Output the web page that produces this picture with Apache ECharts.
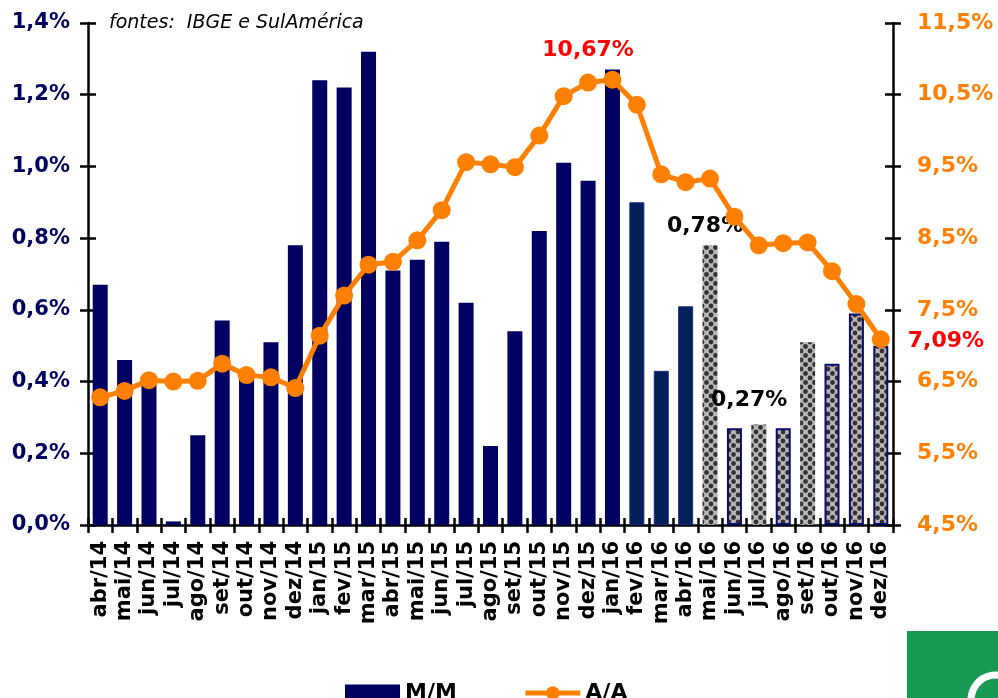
<!DOCTYPE html>
<html>
<head>
<meta charset="utf-8">
<script src="https://cdn.jsdelivr.net/npm/echarts@6/dist/echarts.min.js"></script>
<style>
  html, body { margin: 0; padding: 0; background: #fff; }
  #chart { width: 998px; height: 698px; }
</style>
</head>
<body>
<div id="chart"></div>
<script>
// meses
const months = ['abr/14','mai/14','jun/14','jul/14','ago/14','set/14','out/14','nov/14','dez/14',
  'jan/15','fev/15','mar/15','abr/15','mai/15','jun/15','jul/15','ago/15','set/15','out/15','nov/15','dez/15',
  'jan/16','fev/16','mar/16','abr/16','mai/16','jun/16','jul/16','ago/16','set/16','out/16','nov/16','dez/16'];
// variação mensal (%)
const mm = [0.67,0.46,0.40,0.01,0.25,0.57,0.42,0.51,0.78,
  1.24,1.22,1.32,0.71,0.74,0.79,0.62,0.22,0.54,0.82,1.01,0.96,
  1.27,0.90,0.43,0.61,0.78,0.27,0.28,0.27,0.51,0.45,0.59,0.50];
// acumulado 12 meses (%)
const aa = [6.28,6.37,6.52,6.50,6.51,6.75,6.59,6.56,6.41,
  7.14,7.70,8.13,8.17,8.47,8.89,9.56,9.53,9.49,9.93,10.48,10.67,
  10.71,10.36,9.39,9.28,9.33,8.80,8.40,8.43,8.44,8.04,7.58,7.09];
const leftTicks = [0, 1.4, 0.2];
const rightTicks = [4.5, 11.5, 1];

const NAVY = '#000062';
const ORANGE = '#FF7F00';
const FONT = 'DejaVu Sans';

// hachura cinza das projeções
const pat = document.createElement('canvas');
pat.width = 9; pat.height = 9;
const pc = pat.getContext('2d');
pc.fillStyle = '#b8b8b8';
pc.fillRect(0, 0, 9, 9);
pc.fillStyle = '#333';
[[0,0],[9,0],[0,9],[9,9],[4.5,4.5]].forEach(function (p) {
  pc.beginPath(); pc.arc(p[0], p[1], 2.4, 0, Math.PI * 2); pc.fill();
});

const darkStart = 22, forecastStart = 25;
const bordered = [26, 28, 30, 31, 32];

const barData = mm.map(function (v, i) {
  let item = { value: v };
  if (i >= forecastStart) {
    item.itemStyle = {
      color: { image: pat, repeat: 'repeat' },
      borderColor: bordered.indexOf(i) >= 0 ? '#0a0a70' : 'transparent',
      borderWidth: bordered.indexOf(i) >= 0 ? 2 : 0
    };
  } else if (i >= darkStart) {
    item.itemStyle = { color: '#021f5a', borderColor: '#1c2a8a', borderWidth: 1 };
  }
  return item;
});
const lblStyle = { show: true, fontFamily: FONT, fontWeight: 'bold', fontSize: 22 };
barData[25].label = Object.assign({}, lblStyle, { position: 'top', distance: 8, offset: [-5, 0], color: '#000', formatter: '0,78%' });
barData[28].label = Object.assign({}, lblStyle, { position: 'top', distance: 5, offset: [-34, -12], color: '#000', formatter: '0,27%' });

const lineData = aa.map(function (v) { return { value: v }; });
lineData[20].label = Object.assign({}, lblStyle, { position: 'top', distance: 12, color: '#FF0000', formatter: '10,67%' });
lineData[32].label = Object.assign({}, lblStyle, { position: 'right', distance: 18, offset: [0, 2], color: '#FF0000', formatter: '7,09%' });

const pctFmt = function (d) {
  return function (v) { return v.toFixed(d).replace('.', ',') + '%'; };
};
const axisLine = { show: true, onZero: false, lineStyle: { color: '#000', width: 2.5 } };

const chart = echarts.init(document.getElementById('chart'));
chart.setOption({
  animation: false,
  backgroundColor: '#fff',
  title: {
    text: 'fontes:  IBGE e SulAmérica',
    left: 104, top: 9,
    textStyle: { fontFamily: FONT, fontStyle: 'italic', fontWeight: 'normal', fontSize: 19, color: '#000' }
  },
  grid: { left: 88, right: 105, top: 23, bottom: 173 },
  legend: {
    data: [{ name: 'M/M', icon: 'rect' }, 'A/A'],
    left: 340, top: 677,
    itemWidth: 55, itemHeight: 17, itemGap: 66,
    lineStyle: { width: 5 },
    textStyle: { fontFamily: FONT, fontWeight: 'bold', fontSize: 22, color: '#000' }
  },
  xAxis: [{
    type: 'category', data: months, position: 'bottom',
    axisLine: axisLine,
    axisTick: { show: true, interval: 0, length: 8, lineStyle: { color: '#000', width: 2.5 } },
    axisLabel: { interval: 0, rotate: 90, margin: 16, color: '#000', fontFamily: FONT, fontWeight: 'bold', fontSize: 21 }
  }, {
    type: 'category', data: months, position: 'bottom',
    axisLine: { show: false, onZero: false },
    axisTick: { show: true, inside: true, interval: 0, length: 7, lineStyle: { color: '#000', width: 2.5 } },
    axisLabel: { show: false }
  }],
  yAxis: [{
    type: 'value', position: 'left', min: leftTicks[0], max: leftTicks[1], interval: leftTicks[2],
    axisLine: axisLine,
    axisTick: { show: true, length: 8, lineStyle: { color: '#000', width: 2.5 } },
    axisLabel: { margin: 18, color: NAVY, fontFamily: FONT, fontWeight: 'bold', fontSize: 21, formatter: pctFmt(1) },
    splitLine: { show: false }
  }, {
    type: 'value', position: 'right', min: rightTicks[0], max: rightTicks[1], interval: rightTicks[2],
    axisLine: axisLine,
    axisTick: { show: true, length: 8, lineStyle: { color: '#000', width: 2.5 } },
    axisLabel: { margin: 24, color: ORANGE, fontFamily: FONT, fontWeight: 'bold', fontSize: 22, formatter: pctFmt(1) },
    splitLine: { show: false }
  }, {
    type: 'value', position: 'left', min: leftTicks[0], max: leftTicks[1], interval: leftTicks[2],
    axisLine: { show: false }, axisLabel: { show: false }, splitLine: { show: false },
    axisTick: { show: true, inside: true, length: 8, lineStyle: { color: '#000', width: 2.5 } }
  }, {
    type: 'value', position: 'right', min: rightTicks[0], max: rightTicks[1], interval: rightTicks[2],
    axisLine: { show: false }, axisLabel: { show: false }, splitLine: { show: false },
    axisTick: { show: true, inside: true, length: 8, lineStyle: { color: '#000', width: 2.5 } }
  }],
  series: [{
    name: 'M/M', type: 'bar', xAxisIndex: 0, yAxisIndex: 0,
    barWidth: 15,
    itemStyle: { color: NAVY },
    data: barData
  }, {
    name: 'A/A', type: 'line', xAxisIndex: 0, yAxisIndex: 1,
    symbol: 'circle', symbolSize: 18,
    lineStyle: { color: ORANGE, width: 5 },
    itemStyle: { color: ORANGE },
    data: lineData,
    z: 5
  }],
  graphic: [{
    type: 'rect', left: 907, top: 631,
    shape: { width: 91, height: 67 },
    style: { fill: '#189a54' }
  }, {
    type: 'arc',
    shape: { cx: 996, cy: 700, r: 25, startAngle: Math.PI * 0.95, endAngle: Math.PI * 2.05 },
    style: { stroke: '#fff', lineWidth: 7, fill: null }
  }]
});
</script>
</body>
</html>
